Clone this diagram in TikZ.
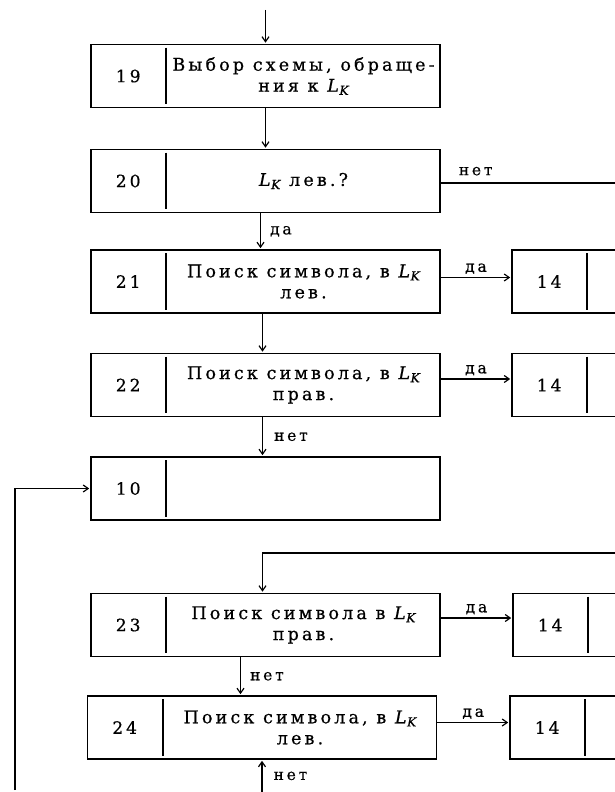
\documentclass[tikz,border=0pt]{standalone}
\usepackage{fontspec}
\setmainfont{DejaVu Serif}
\newfontfamily\blkfont[LetterSpace=18, FakeBold=0.6]{DejaVu Serif}
\newcommand\LK{\textit{L\kern0.5pt\raisebox{-0.35ex}{\fontsize{12.5}{12.5}\selectfont K}}}
\usetikzlibrary{arrows.meta,positioning,calc}

\begin{document}
\begin{tikzpicture}[x=1pt, y=-1pt,
    blk/.style={draw, line width=1.6pt, minimum width=349pt, minimum height=63pt, inner sep=0pt},
    num/.style={font=\blkfont\fontsize{17}{20}\selectfont},
    txt/.style={font=\blkfont\fontsize{17.5}{21}\selectfont, align=center},
    lbl/.style={font=\blkfont\fontsize{15.5}{18}\selectfont, inner sep=1pt},
    conn/.style={line width=1.2pt, shorten >=1pt, -{Straight Barb[length=5pt, width=7pt]}},
    line/.style={line width=1.2pt}]
    \clip (0,0) rectangle (615,792);

    % main column
    \node[blk] (b19) at (265.5,76) {};
    \node[blk] (b20) at (265.5,181) {};
    \node[blk] (b21) at (265.5,281.5) {};
    \node[blk] (b22) at (265.5,385) {};
    \node[blk] (b10) at (265.5,488.5) {};
    \node[blk] (b23) at (265.5,625) {};
    \node[blk] (b24) at (262,727.5) {};

    % exits to block 14
    \node[blk, minimum width=130pt] (k21) at (577,281.5) {};
    \node[blk, minimum width=130pt] (k22) at (577,385) {};
    \node[blk, minimum width=130pt] (k23) at (578,625) {};
    \node[blk, minimum width=130pt] (k24) at (575,727.5) {};

    \foreach \b/\n in {b19/19,b20/20,b21/21,b22/22,b10/10,b23/23,b24/24,k21/14,k22/14,k23/14,k24/14} {
      \draw[line width=1.6pt] ([xshift=76pt,yshift=-4pt]\b.north west) -- ([xshift=76pt,yshift=4pt]\b.south west);
      \node[num] (\b-n) at ([xshift=38pt]\b.west) {\n};
    }

    \node[txt] (b19-t) at ([xshift=38pt]b19.center) {Выбор схемы, обраще-\\ния к \LK};
    \node[txt] (b20-t) at ([xshift=38pt]b20.center) {\LK{} лев.?};
    \node[txt] (b21-t) at ([xshift=38pt]b21.center) {Поиск символа, в \LK\\лев.};
    \node[txt] (b22-t) at ([xshift=38pt]b22.center) {Поиск символа, в \LK\\прав.};
    \node[txt] (b23-t) at ([xshift=38pt]b23.center) {Поиск символа в \LK\\прав.};
    \node[txt] (b24-t) at ([xshift=38pt]b24.center) {Поиск символа, в \LK\\лев.};

    \coordinate (in) at (265.5,10);
    \coordinate (r20) at (615,183);
    \coordinate (lo) at (15,790);
    \coordinate (r23) at (615,553);
    \coordinate (up24) at (262,792);

    \draw[conn] (in) -- (b19.north);
    \draw[conn] (b19.south) -- (b20.north);
    \draw[conn] ([xshift=-5pt]b20.south) -- ([xshift=-5pt]b21.north) node[lbl, midway, right=8pt] {да};
    \draw[line] (r20 -| b20.east) -- node[lbl, pos=0.2, above=6pt] {нет} (r20);
    \draw[conn] ([xshift=-3pt]b21.south) -- ([xshift=-3pt]b22.north);
    \draw[conn] ([xshift=-3pt]b22.south) -- ([xshift=-3pt]b10.north) node[lbl, midway, right=10pt] {нет};

    \draw[conn] ([yshift=4pt]b21.east) -- ([yshift=4pt]k21.west) node[lbl, midway, above=2pt] {да};
    \draw[conn] ([yshift=6pt]b22.east) -- ([yshift=6pt]k22.west) node[lbl, midway, above=2pt] {да};
    \draw[conn] ([yshift=7pt]b23.east) -- ([yshift=7pt]k23.west) node[lbl, midway, above=2pt] {да};
    \draw[conn] ([yshift=5pt]b24.east) -- ([yshift=5pt]k24.west) node[lbl, midway, above=2pt] {да};

    % return loop and lower part
    \draw[conn] (lo) |- (b10.west);
    \draw[conn] (r23) -| ([xshift=-3pt]b23.north);
    \draw[conn] ([xshift=-25pt]b23.south) -- ([xshift=-21.5pt]b24.north) node[lbl, midway, right=8pt] {нет};
    \draw[conn] (up24) -- (b24.south) node[lbl, midway, right=10pt] {нет};
\end{tikzpicture}
\end{document}
